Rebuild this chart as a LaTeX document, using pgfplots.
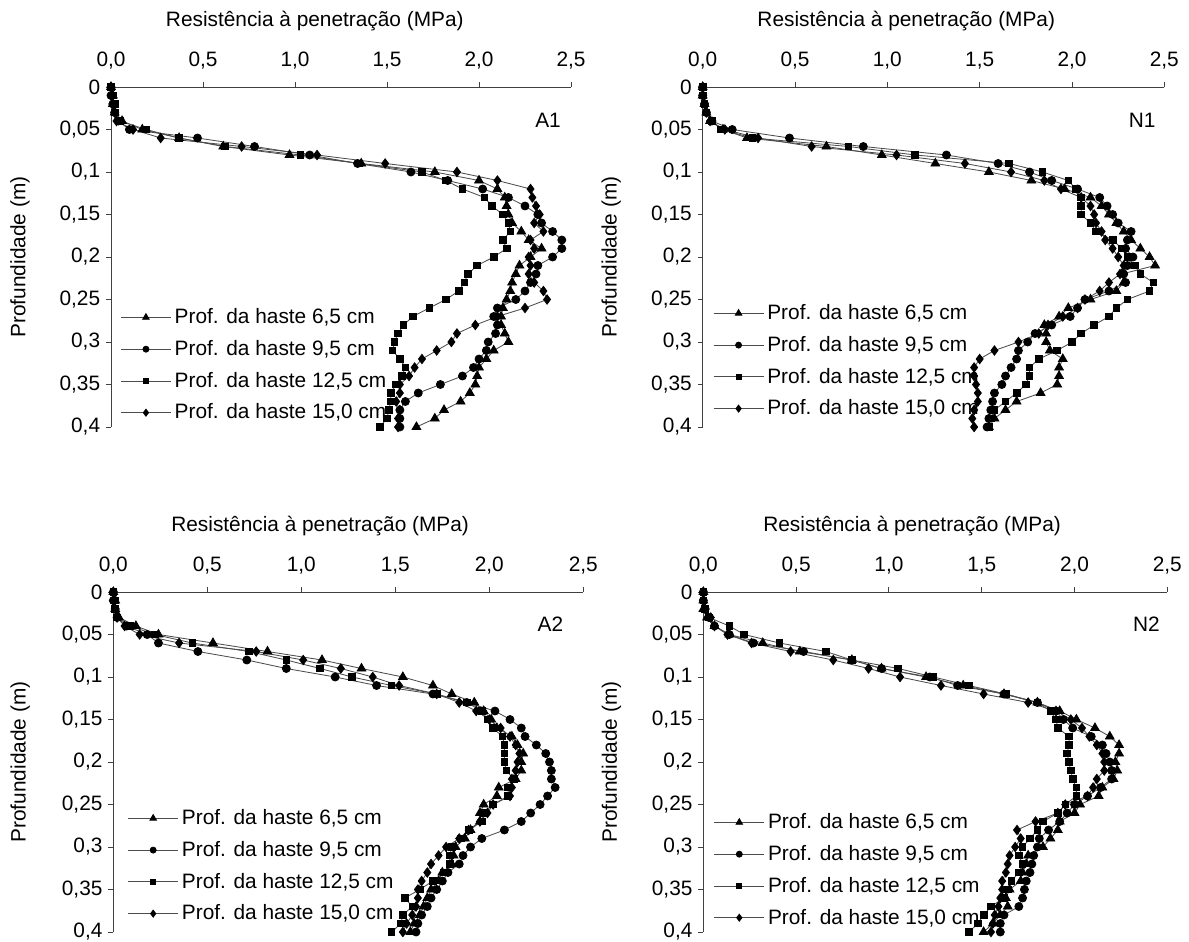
\documentclass[border=0pt]{standalone}
\usepackage{pgfplots}
\pgfplotsset{compat=1.18}
\usepackage{pgfplotstable}
\usepackage{fontspec}
\setmainfont{Liberation Sans}

\pgfplotstableread{
d t c s q
0.00 0.00 0.00 0.00 0.00
0.01 0.01 0.00 0.01 0.00
0.02 0.01 0.01 0.02 0.01
0.03 0.02 0.02 0.02 0.02
0.04 0.06 0.04 0.05 0.03
0.05 0.17 0.10 0.19 0.12
0.06 0.37 0.47 0.37 0.27
0.07 0.61 0.78 0.62 0.71
0.08 0.97 1.08 1.03 1.12
0.09 1.36 1.34 1.35 1.49
0.10 1.76 1.63 1.69 1.88
0.11 2.00 1.83 1.82 2.10
0.12 2.10 2.02 1.91 2.28
0.13 2.14 2.16 2.03 2.29
0.14 2.15 2.25 2.07 2.31
0.15 2.16 2.32 2.13 2.33
0.16 2.18 2.34 2.16 2.30
0.17 2.23 2.40 2.17 2.35
0.18 2.27 2.45 2.13 2.28
0.19 2.34 2.45 2.15 2.30
0.20 2.28 2.40 2.08 2.27
0.21 2.22 2.32 1.99 2.28
0.22 2.20 2.31 1.94 2.27
0.23 2.18 2.28 1.92 2.30
0.24 2.17 2.25 1.89 2.35
0.25 2.15 2.20 1.82 2.37
0.26 2.13 2.10 1.73 2.25
0.27 2.12 2.08 1.64 2.10
0.28 2.12 2.10 1.59 1.98
0.29 2.14 2.09 1.56 1.88
0.30 2.16 2.05 1.54 1.85
0.31 2.08 2.04 1.53 1.77
0.32 2.04 2.00 1.57 1.69
0.33 2.00 1.97 1.60 1.65
0.34 1.99 1.91 1.58 1.62
0.35 1.98 1.79 1.55 1.57
0.36 1.95 1.67 1.52 1.57
0.37 1.90 1.60 1.52 1.55
0.38 1.81 1.57 1.51 1.57
0.39 1.76 1.57 1.50 1.56
0.40 1.66 1.57 1.46 1.56
}\Aone

\pgfplotstableread{
d t c s q
0.00 0.00 0.00 0.00 0.00
0.01 0.00 0.00 0.00 0.00
0.02 0.01 0.01 0.01 0.01
0.03 0.02 0.02 0.02 0.02
0.04 0.04 0.05 0.05 0.04
0.05 0.11 0.16 0.10 0.12
0.06 0.24 0.47 0.27 0.30
0.07 0.67 0.87 0.79 0.59
0.08 0.97 1.32 1.15 1.05
0.09 1.26 1.60 1.66 1.42
0.10 1.55 1.77 1.84 1.67
0.11 1.78 1.89 1.98 1.85
0.12 1.96 2.03 2.02 1.94
0.13 2.10 2.15 2.05 2.05
0.14 2.16 2.19 2.05 2.10
0.15 2.20 2.22 2.05 2.12
0.16 2.24 2.25 2.10 2.13
0.17 2.28 2.32 2.13 2.16
0.18 2.32 2.30 2.22 2.18
0.19 2.37 2.29 2.27 2.22
0.20 2.42 2.33 2.30 2.25
0.21 2.45 2.30 2.34 2.28
0.22 2.27 2.28 2.37 2.26
0.23 2.28 2.29 2.44 2.20
0.24 2.24 2.20 2.42 2.15
0.25 2.10 2.07 2.30 2.07
0.26 1.98 2.03 2.24 2.03
0.27 1.93 1.99 2.20 1.95
0.28 1.85 1.89 2.12 1.87
0.29 1.86 1.80 2.05 1.82
0.30 1.86 1.76 2.00 1.71
0.31 1.88 1.71 1.92 1.58
0.32 1.95 1.70 1.82 1.50
0.33 1.93 1.67 1.77 1.47
0.34 1.93 1.64 1.77 1.47
0.35 1.92 1.62 1.75 1.48
0.36 1.83 1.58 1.70 1.49
0.37 1.70 1.57 1.64 1.49
0.38 1.64 1.56 1.58 1.47
0.39 1.58 1.55 1.56 1.46
0.40 1.55 1.54 1.55 1.47
}\None

\pgfplotstableread{
d t c s q
0.00 0.00 0.00 0.00 0.00
0.01 0.01 0.00 0.01 0.00
0.02 0.01 0.01 0.01 0.01
0.03 0.03 0.02 0.02 0.02
0.04 0.12 0.07 0.09 0.06
0.05 0.24 0.18 0.22 0.14
0.06 0.53 0.24 0.42 0.35
0.07 0.82 0.45 0.72 0.76
0.08 1.11 0.71 0.92 1.01
0.09 1.32 0.92 1.10 1.21
0.10 1.54 1.18 1.27 1.38
0.11 1.70 1.40 1.48 1.52
0.12 1.80 1.70 1.72 1.72
0.13 1.92 1.88 1.88 1.84
0.14 1.97 2.03 1.96 1.93
0.15 2.01 2.11 1.99 2.00
0.16 2.04 2.17 2.02 2.06
0.17 2.12 2.19 2.07 2.11
0.18 2.15 2.25 2.08 2.14
0.19 2.18 2.30 2.08 2.16
0.20 2.17 2.32 2.08 2.15
0.21 2.17 2.33 2.09 2.14
0.22 2.14 2.33 2.13 2.12
0.23 2.05 2.35 2.10 2.12
0.24 2.04 2.31 2.10 2.11
0.25 1.97 2.27 2.02 2.02
0.26 1.95 2.22 1.97 1.99
0.27 1.95 2.17 1.96 1.95
0.28 1.90 2.08 1.89 1.89
0.29 1.87 1.96 1.85 1.84
0.30 1.82 1.90 1.80 1.77
0.31 1.81 1.86 1.79 1.73
0.32 1.80 1.84 1.79 1.69
0.33 1.75 1.78 1.76 1.67
0.34 1.73 1.75 1.70 1.64
0.35 1.69 1.72 1.63 1.62
0.36 1.67 1.69 1.55 1.62
0.37 1.65 1.67 1.59 1.61
0.38 1.63 1.64 1.54 1.59
0.39 1.60 1.62 1.53 1.56
0.40 1.58 1.61 1.48 1.54
}\Atwo

\pgfplotstableread{
d t c s q
0.00 0.00 0.00 0.00 0.00
0.01 0.00 0.00 0.00 0.00
0.02 0.00 0.01 0.01 0.01
0.03 0.02 0.03 0.03 0.04
0.04 0.06 0.06 0.14 0.06
0.05 0.14 0.14 0.22 0.13
0.06 0.32 0.27 0.41 0.26
0.07 0.52 0.54 0.66 0.47
0.08 0.80 0.80 0.80 0.70
0.09 0.96 0.96 1.05 0.89
0.10 1.20 1.22 1.24 1.06
0.11 1.40 1.37 1.43 1.28
0.12 1.62 1.62 1.63 1.51
0.13 1.80 1.80 1.80 1.75
0.14 1.92 1.90 1.87 1.90
0.15 2.01 1.94 1.90 1.98
0.16 2.11 1.99 1.91 2.04
0.17 2.19 2.09 1.97 2.08
0.18 2.24 2.15 1.97 2.12
0.19 2.24 2.17 1.96 2.15
0.20 2.22 2.19 1.97 2.16
0.21 2.23 2.20 1.98 2.16
0.22 2.21 2.20 1.99 2.12
0.23 2.15 2.14 2.01 2.10
0.24 2.13 2.07 2.01 2.07
0.25 2.03 2.00 1.95 1.95
0.26 2.00 1.96 1.91 1.91
0.27 1.92 1.92 1.83 1.79
0.28 1.91 1.86 1.80 1.69
0.29 1.87 1.81 1.76 1.71
0.30 1.83 1.80 1.72 1.68
0.31 1.75 1.78 1.70 1.65
0.32 1.74 1.77 1.72 1.64
0.33 1.72 1.76 1.70 1.63
0.34 1.71 1.74 1.66 1.61
0.35 1.65 1.73 1.64 1.61
0.36 1.63 1.72 1.62 1.60
0.37 1.64 1.70 1.55 1.59
0.38 1.60 1.62 1.51 1.57
0.39 1.56 1.60 1.48 1.56
0.40 1.51 1.60 1.43 1.55
}\Ntwo

\newcommand{\fnt}{\fontsize{12.5}{14.5}\selectfont}

\pgfplotsset{
  painel/.style={
    scale only axis,
    xmin=0, xmax=2.5, ymin=-0.4, ymax=0,
    axis x line*=top, axis y line*=left,
    axis line style={black!75, line width=0.6pt},
    tick style={black!75, line width=0.6pt},
    tick align=outside, major tick length=3pt,
    xtick={0,0.5,1,1.5,2,2.5},
    xticklabels={{0,0},{0,5},{1,0},{1,5},{2,0},{2,5}},
    ytick={-0.4,-0.35,-0.3,-0.25,-0.2,-0.15,-0.1,-0.05,0},
    yticklabels={{0,4},{0,35},{0,3},{0,25},{0,2},{0,15},{0,1},{0,05},0},
    ticklabel style={font=\fnt},
    xticklabel style={yshift=4pt},
    label style={font=\fnt},
    xlabel={Resistência à penetração (MPa)},
    ylabel={Profundidade (m)},
    ylabel style={at={(axis description cs:-0.198,0.5)}, anchor=center},
    clip=false,
    legend cell align=left,
    legend style={draw=none, fill=none, font=\fnt,
      row sep=4.5pt, anchor=north west, inner sep=0pt},
    legend image code/.code={\draw[mark repeat=2,mark phase=2] plot coordinates {(0pt,0pt) (15pt,0pt) (30pt,0pt)};},
    legend image post style={every mark/.append style={scale=0.75}},
  },
  s1/.style={black!70, line width=0.5pt, mark=triangle*, mark size=3pt, mark options={fill=black, draw=black}},
  s2/.style={black!70, line width=0.5pt, mark=*, mark size=2.4pt, mark options={fill=black, draw=black}},
  s3/.style={black!70, line width=0.5pt, mark=square*, mark size=2pt, mark options={fill=black, draw=black}},
  s4/.style={black!70, line width=0.5pt, mark=diamond*, mark size=2.8pt, mark options={fill=black, draw=black}},
}

\newcommand{\series}[1]{%
  \addplot[s1] table[x=t, y expr=-\thisrow{d}] {#1};
  \addlegendentry{Prof. da haste 6,5 cm}
  \addplot[s2] table[x=c, y expr=-\thisrow{d}] {#1};
  \addlegendentry{Prof. da haste 9,5 cm}
  \addplot[s3] table[x=s, y expr=-\thisrow{d}] {#1};
  \addlegendentry{Prof. da haste 12,5 cm}
  \addplot[s4] table[x=q, y expr=-\thisrow{d}] {#1};
  \addlegendentry{Prof. da haste 15,0 cm}
}

\begin{document}
\begin{tikzpicture}
\useasboundingbox (0pt,0pt) rectangle (713.4pt,-564.6pt);

\begin{axis}[painel, at={(66.6pt,-52.2pt)}, anchor=north west,
  width=276pt, height=204pt,
  xlabel style={at={(axis description cs:0.443,1.195)}, anchor=center},
  legend style={at={(axis description cs:0.02,0.359)}}]
\series{\Aone}
\node[font=\fnt] at (axis description cs:0.95,0.903) {A1};
\end{axis}

\begin{axis}[painel, at={(421.6pt,-52.2pt)}, anchor=north west,
  width=277pt, height=204pt,
  xlabel style={at={(axis description cs:0.441,1.195)}, anchor=center},
  legend style={at={(axis description cs:0.022,0.371)}}]
\series{\None}
\node[font=\fnt] at (axis description cs:0.952,0.903) {N1};
\end{axis}

\begin{axis}[painel, at={(68pt,-355.2pt)}, anchor=north west,
  width=282pt, height=204pt,
  xlabel style={at={(axis description cs:0.44,1.195)}, anchor=center},
  legend style={at={(axis description cs:0.03,0.371)}}]
\series{\Atwo}
\node[font=\fnt] at (axis description cs:0.93,0.905) {A2};
\end{axis}

\begin{axis}[painel, at={(422pt,-355.2pt)}, anchor=north west,
  width=278.4pt, height=204pt,
  xlabel style={at={(axis description cs:0.45,1.195)}, anchor=center},
  legend style={at={(axis description cs:0.022,0.359)}}]
\series{\Ntwo}
\node[font=\fnt] at (axis description cs:0.955,0.905) {N2};
\end{axis}
\end{tikzpicture}
\end{document}
